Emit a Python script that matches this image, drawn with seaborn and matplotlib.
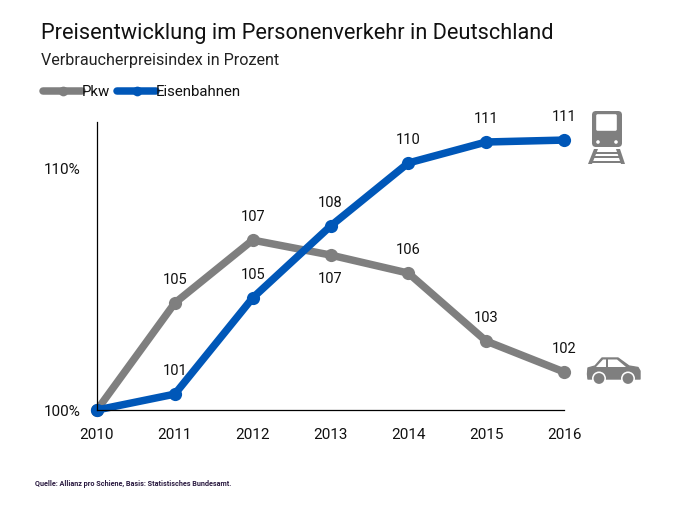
import matplotlib
matplotlib.use("Agg")
import matplotlib.pyplot as plt
from matplotlib.patches import Circle, FancyBboxPatch, Polygon, Rectangle
import pandas as pd
import seaborn as sns

years = [2010, 2011, 2012, 2013, 2014, 2015, 2016]
pkw = [100.0, 104.44, 107.05, 106.43, 105.68, 102.86, 101.58]
bahn = [100.0, 100.66, 104.65, 107.63, 110.25, 111.12, 111.2]
pkw_labels = ["", "105", "107", "107", "106", "103", "102"]
bahn_labels = ["", "101", "105", "108", "110", "111", "111"]

GREY = "#7f7f7f"
BLUE = "#0057b8"
W, H = 680, 516

sns.set_style("white")
plt.rcParams["font.family"] = ["Roboto", "DejaVu Sans"]

df = pd.DataFrame({
    "year": years * 2,
    "index": pkw + bahn,
    "series": ["Pkw"] * len(years) + ["Eisenbahnen"] * len(years),
})

fig = plt.figure(figsize=(W / 100, H / 100), dpi=100)
ax = fig.add_axes([97 / W, 1 - 410 / H, (564 - 97) / W, (410 - 122) / H])

sns.lineplot(data=df, x="year", y="index", hue="series", hue_order=["Pkw", "Eisenbahnen"],
             palette=[GREY, BLUE], marker="o", markersize=9.5, markeredgewidth=0,
             linewidth=5.4, ax=ax, clip_on=False, solid_capstyle="round", errorbar=None)

ax.set_xlim(2010, 2016)
ax.set_ylim(100, 111.95)
ax.set_xticks(years)
ax.set_yticks([100, 110])
ax.set_yticklabels(["100%", "110%"])
ax.set_xlabel("")
ax.set_ylabel("")
ax.tick_params(axis="both", length=0, labelsize=11, colors="#111111")
ax.tick_params(axis="x", pad=13)
ax.tick_params(axis="y", pad=12)
sns.despine(ax=ax)
ax.spines["left"].set_linewidth(0.9)
ax.spines["bottom"].set_linewidth(0.9)
ax.spines["left"].set_color("black")
ax.spines["bottom"].set_color("black")

for year, val, lab in zip(years, pkw, pkw_labels):
    # 2013 sits under the line, the blue one is above it there
    offset = -17 if year == 2013 else 16.5
    ax.annotate(lab, (year, val), xytext=(0, offset), textcoords="offset points",
                ha="center", va="center", fontsize=10.5, color="#111111")
for year, val, lab in zip(years, bahn, bahn_labels):
    ax.annotate(lab, (year, val), xytext=(0, 16.5), textcoords="offset points",
                ha="center", va="center", fontsize=10.5, color="#111111")

leg = ax.legend(loc="upper left", bbox_to_anchor=(43 / W, 1 - 85 / H), bbox_transform=fig.transFigure,
                ncols=2, frameon=False, fontsize=10.8, handlelength=2.6, handletextpad=0,
                columnspacing=0.45, borderpad=0, borderaxespad=0, labelcolor="#111111")
for handle in leg.get_lines():
    handle.set_markersize(7)

fig.text(41 / W, 1 - 33 / H, "Preisentwicklung im Personenverkehr in Deutschland",
         fontsize=15.7, va="center", ha="left", color="#111111")
fig.text(41 / W, 1 - 61 / H, "Verbraucherpreisindex in Prozent",
         fontsize=11.6, va="center", ha="left", color="#222222")
fig.text(35 / W, 1 - 484 / H, "Quelle: Allianz pro Schiene, Basis: Statistisches Bundesamt.",
         fontsize=5.2, va="center", ha="left", color="#2a1a40", fontweight="bold")

# icons, drawn in pixel coordinates on an overlay
ov = fig.add_axes([0, 0, 1, 1], zorder=5)
ov.set_xlim(0, W)
ov.set_ylim(H, 0)
ov.axis("off")

# train
ov.add_patch(FancyBboxPatch((595, 114), 24, 30, boxstyle="round,pad=3,rounding_size=4", fc=GREY, ec="none"))
ov.add_patch(FancyBboxPatch((597, 115), 19, 15, boxstyle="round,pad=0.8,rounding_size=1.5", fc="white", ec="none"))
ov.add_patch(Circle((598, 142), 1.8, fc="white", ec="none"))
ov.add_patch(Circle((616, 142), 1.8, fc="white", ec="none"))
ov.add_patch(Polygon([(594, 149), (598, 149), (592, 164), (588, 164)], fc=GREY, ec="none"))
ov.add_patch(Polygon([(616, 149), (620, 149), (625, 164), (621, 164)], fc=GREY, ec="none"))
for y, x0, x1 in [(151.5, 595, 619), (156, 593, 621), (160.5, 591, 623)]:
    ov.add_patch(Rectangle((x0, y), x1 - x0, 2.2, fc=GREY, ec="none"))

# car
ov.add_patch(Polygon([(587.5, 374), (588, 368), (595, 366), (602, 358), (618, 358), (629, 366),
                      (638, 367.5), (640, 371), (640, 379), (588, 379)],
                     fc=GREY, ec=GREY, lw=1, joinstyle="round"))
ov.add_patch(Polygon([(596, 367), (603, 359.5), (606, 359.5), (606, 367)], fc="white", ec="none"))
ov.add_patch(Polygon([(608, 359.5), (617, 359.5), (626, 367), (608, 367)], fc="white", ec="none"))
for cx in (599, 628):
    ov.add_patch(Circle((cx, 378.5), 7, fc="white", ec="none"))
    ov.add_patch(Circle((cx, 378.5), 5.4, fc=GREY, ec="none"))

fig.savefig("out.png", dpi=100, facecolor="white")
plt.close(fig)
